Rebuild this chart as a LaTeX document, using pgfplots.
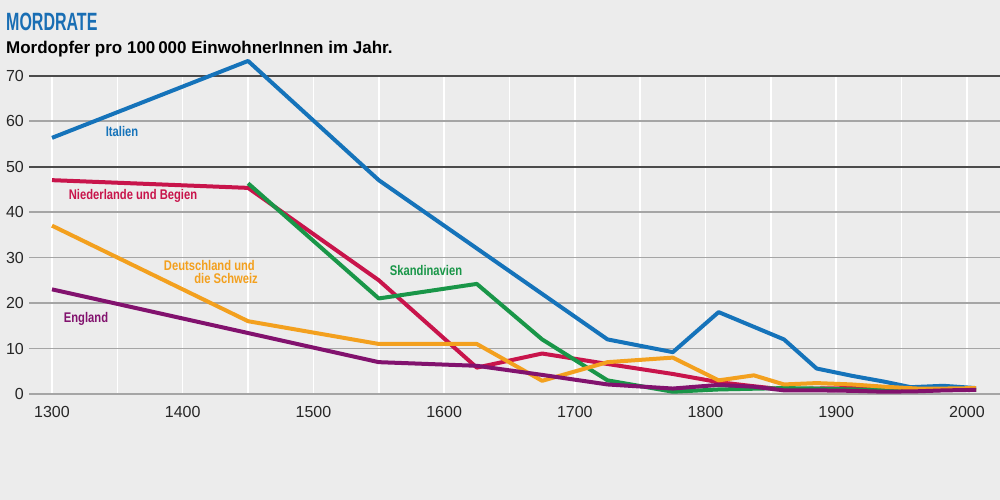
\documentclass[border=0pt]{standalone}
\usepackage{pgfplots}
\pgfplotsset{compat=1.18}
\usepackage{fontspec}
\setmainfont{Liberation Sans}
\usepackage{graphicx}
\definecolor{bg}{RGB}{236,236,236}
\definecolor{titleblue}{RGB}{25,110,180}
\definecolor{italy}{RGB}{21,115,186}
\definecolor{nl}{RGB}{200,20,75}
\definecolor{sk}{RGB}{25,150,72}
\definecolor{de}{RGB}{243,160,30}
\definecolor{en}{RGB}{130,18,110}
\definecolor{dkgrid}{RGB}{75,75,75}
\definecolor{ltgrid}{RGB}{165,165,165}
\newcommand{\lab}[1]{\scalebox{0.8}[1]{\fontsize{14bp}{16bp}\selectfont\bfseries #1}}
\begin{document}
\begin{tikzpicture}[x=1bp,y=1bp]
\fill[bg] (0,0) rectangle (1000,-500);
\useasboundingbox (0,0) rectangle (1000,-500);
\node[anchor=base west, inner sep=0, text=titleblue] at (6,-31) {\scalebox{0.64}[1]{\fontsize{25bp}{28bp}\selectfont\bfseries MORDRATE}};
\node[anchor=base west, inner sep=0] at (6,-54) {\fontsize{17bp}{20bp}\selectfont\bfseries Mordopfer pro 100\,000 EinwohnerInnen im Jahr.};
\begin{axis}[
  at={(29bp,-394bp)}, anchor=south west,
  scale only axis, width=971bp, height=318.5bp,
  xmin=1282.4, xmax=2025.3, ymin=0, ymax=70,
  clip=false,
  axis line style={draw=none},
  major tick length=0pt, minor tick length=0pt,
  xtick={1300,1400,...,2000},
  minor xtick={1300,1350,...,2000},
  xminorgrids,
  minor grid style={white, line width=1.5bp},
  ytick={0,10,20,30,40,60},
  ymajorgrids,
  major grid style={ltgrid, line width=1.5bp},
  extra y ticks={50,70},
  extra y tick style={major grid style={dkgrid, line width=2bp}},
  /pgf/number format/assume math mode=true,
  /pgf/number format/1000 sep={},
  ticklabel style={font=\fontsize{16bp}{18bp}\selectfont, text=black!85},
  xticklabel style={anchor=north, inner sep=0pt, yshift=-12bp},
  yticklabel style={anchor=east, inner sep=0pt, xshift=-5bp},
  every axis plot/.append style={line width=4bp, line join=round, line cap=butt},
]
\addplot[italy] coordinates {(1300,56.3) (1450,73.2) (1550,47) (1625,32) (1675,22) (1725,12) (1775,9.2) (1810,18) (1860,12) (1885,5.6) (1912,4.0) (1937,2.7) (1957,1.5) (1982,1.8) (2007,1.3)};
\addplot[nl] coordinates {(1300,47) (1450,45.3) (1550,25) (1625,5.8) (1675,8.9) (1725,6.6) (1775,4.4) (1810,2.6) (1837,1.7) (1860,1.0) (1885,1.2) (1912,1.3) (1937,1.0) (1962,0.8) (1983,0.9) (2007,0.9)};
\addplot[sk] coordinates {(1450,46.3) (1550,21) (1625,24.2) (1675,12) (1725,3) (1775,0.5) (1810,1) (1860,1.3) (1885,1.2) (1912,1.0) (1937,0.9) (1962,0.8) (1983,0.9) (2007,0.9)};
\addplot[de] coordinates {(1300,37) (1450,16) (1550,11) (1625,11) (1675,2.9) (1725,7) (1775,8.0) (1810,3.0) (1837,4.1) (1860,2.1) (1885,2.4) (1912,2.1) (1937,1.6) (1962,1.2) (1983,1.2) (2007,1.3)};
\addplot[en] coordinates {(1300,23) (1450,13.4) (1550,7) (1625,6.2) (1675,4.2) (1725,2.1) (1775,1.2) (1810,2.0) (1837,1.6) (1860,0.8) (1885,0.8) (1912,0.7) (1937,0.5) (1962,0.6) (1983,0.8) (2007,0.9)};
\end{axis}
\begin{scope}[every node/.style={inner sep=0pt}]
\node[text=italy, anchor=base] at (122,-137) {\lab{Italien}};
\node[text=nl, anchor=base] at (133,-200) {\lab{Niederlande und Begien}};
\node[text=de, anchor=base east] at (255,-271) {\lab{Deutschland und}};
\node[text=de, anchor=base east] at (258,-284) {\lab{die Schweiz}};
\node[text=sk, anchor=base] at (426,-276) {\lab{Skandinavien}};
\node[text=en, anchor=base] at (86,-323) {\lab{England}};
\end{scope}
\end{tikzpicture}
\end{document}
